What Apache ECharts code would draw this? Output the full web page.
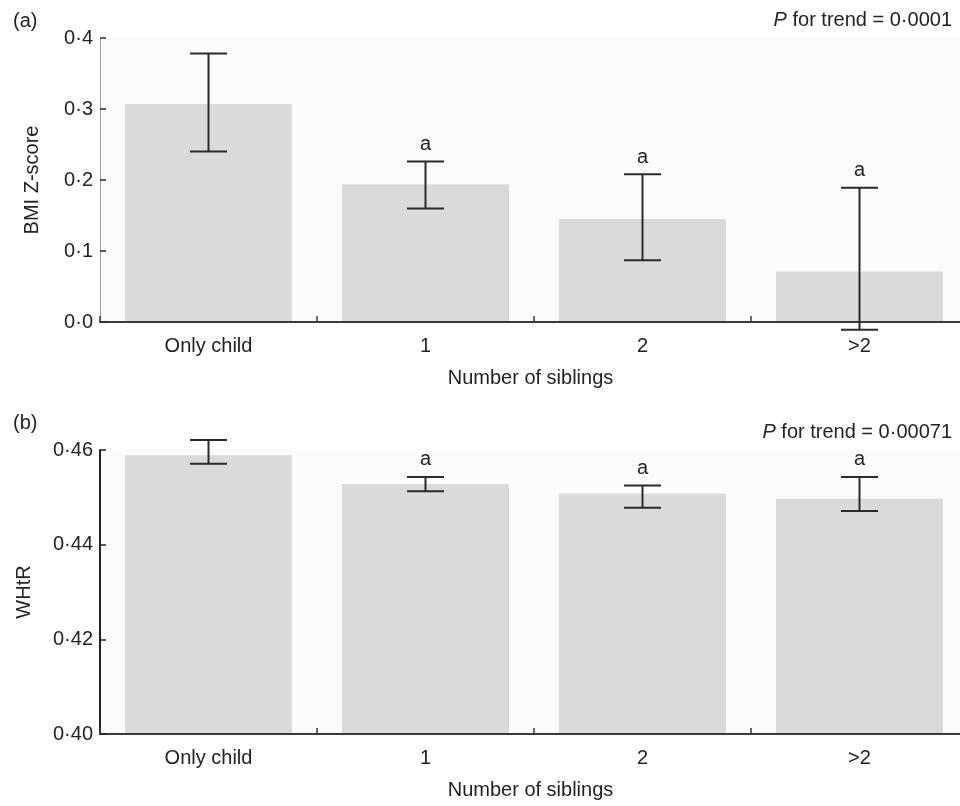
<!DOCTYPE html>
<html><head><meta charset="utf-8">
<script src="https://cdn.jsdelivr.net/npm/echarts/dist/echarts.min.js"></script>
<style>html,body{margin:0;padding:0;background:#fff}#c{width:960px;height:806px}</style>
</head><body><div id="c"></div>
<script>
const categories = ['Only child', '1', '2', '>2'];
const bmiMean  = [0.307, 0.194, 0.145, 0.071];
const bmiLower = [0.240, 0.160, 0.087, -0.011];
const bmiUpper = [0.378, 0.226, 0.208, 0.189];
const whtrMean  = [0.4589, 0.4528, 0.4508, 0.4497];
const whtrLower = [0.4571, 0.4513, 0.4478, 0.4471];
const whtrUpper = [0.4621, 0.4543, 0.4525, 0.4543];
const sigMarks = ['', 'a', 'a', 'a'];
const panelLabels = ['(a)', '(b)'];
const trendTexts = ['0\u00b70001', '0\u00b700071'];
const yNames = ['BMI Z-score', 'WHtR'];
const xName = 'Number of siblings';

const FF = "'Liberation Sans', Arial, Helvetica, sans-serif";
const dot = (v, d) => v.toFixed(d).replace('.', '\u00b7');

function errRender(params, api) {
  const i = api.value(0);
  const top = api.coord([i, api.value(2)]);
  const bot = api.coord([i, api.value(1)]);
  const half = 18.5;
  const st = { stroke: '#2a2a2a', lineWidth: 2 };
  const children = [
    { type: 'line', shape: { x1: top[0], y1: top[1], x2: bot[0], y2: bot[1] }, style: st },
    { type: 'line', shape: { x1: top[0] - half, y1: top[1], x2: top[0] + half, y2: top[1] }, style: st },
    { type: 'line', shape: { x1: bot[0] - half, y1: bot[1], x2: bot[0] + half, y2: bot[1] }, style: st }
  ];
  const mark = sigMarks[params.dataIndex];
  if (mark) {
    children.push({ type: 'text', x: top[0], y: top[1] - 17,
      style: { text: mark, fill: '#222', fontSize: 20, fontFamily: FF, align: 'center', verticalAlign: 'middle' } });
  }
  return { type: 'group', children };
}

function xAxisCfg(gi) {
  return {
    type: 'category', gridIndex: gi, data: categories, boundaryGap: true, z: 4,
    axisLine: { show: true, lineStyle: { color: '#3a3a3a', width: 2 } },
    axisTick: { show: true, inside: true, length: 6, alignWithLabel: false, lineStyle: { color: '#3a3a3a', width: 1.5 } },
    axisLabel: { margin: 14, fontSize: 20, fontFamily: FF, color: '#222' },
    splitLine: { show: false },
    name: xName, nameLocation: 'middle', nameGap: 46,
    nameTextStyle: { fontSize: 20, fontFamily: FF, color: '#222', padding: [0, 7, 0, 0] }
  };
}

const option = {
  backgroundColor: '#ffffff',
  animation: false,
  grid: [
    { left: 100, top: 38, width: 868, height: 284, show: true, backgroundColor: '#fbfbfb', borderWidth: 0, outerBoundsMode: 'none', containLabel: false },
    { left: 100, top: 450, width: 868, height: 284, show: true, backgroundColor: '#fbfbfb', borderWidth: 0, outerBoundsMode: 'none', containLabel: false }
  ],
  xAxis: [xAxisCfg(0), xAxisCfg(1)],
  yAxis: [
    { type: 'value', gridIndex: 0, min: 0, max: 0.4, interval: 0.1, z: 4,
      axisLine: { show: true, lineStyle: { color: '#9a9a9a', width: 1 } },
      axisTick: { show: true, inside: true, length: 6, lineStyle: { color: '#2a2a2a', width: 1.5 } },
      axisLabel: { margin: 7, fontSize: 20, fontFamily: FF, color: '#222', formatter: v => dot(v, 1) },
      splitLine: { show: false },
      name: yNames[0], nameLocation: 'middle', nameGap: 58, nameRotate: 90,
      nameTextStyle: { fontSize: 20, fontFamily: FF, color: '#222' } },
    { type: 'value', gridIndex: 1, min: 0.40, max: 0.46, interval: 0.02, z: 4,
      axisLine: { show: true, lineStyle: { color: '#222', width: 2 } },
      axisTick: { show: true, inside: true, length: 6, lineStyle: { color: '#222', width: 1.5 } },
      axisLabel: { margin: 7, fontSize: 20, fontFamily: FF, color: '#222', formatter: v => dot(v, 2) },
      splitLine: { show: false },
      name: yNames[1], nameLocation: 'middle', nameGap: 66, nameRotate: 90,
      nameTextStyle: { fontSize: 20, fontFamily: FF, color: '#222' } }
  ],
  series: [
    { type: 'bar', xAxisIndex: 0, yAxisIndex: 0, data: bmiMean, barWidth: 167, z: 2,
      itemStyle: { color: '#d9dadc' }, silent: true },
    { type: 'custom', xAxisIndex: 0, yAxisIndex: 0, renderItem: errRender, clip: false, z: 6,
      data: categories.map((c, i) => [i, bmiLower[i], bmiUpper[i]]) },
    { type: 'bar', xAxisIndex: 1, yAxisIndex: 1, data: whtrMean, barWidth: 167, z: 2,
      itemStyle: { color: '#d9dadc' }, silent: true },
    { type: 'custom', xAxisIndex: 1, yAxisIndex: 1, renderItem: errRender, clip: false, z: 6,
      data: categories.map((c, i) => [i, whtrLower[i], whtrUpper[i]]) }
  ],
  graphic: [
    { type: 'text', x: 13, y: 21, style: { text: panelLabels[0], fontSize: 20, fontFamily: FF, fill: '#222', verticalAlign: 'middle' } },
    { type: 'text', x: 13, y: 423, style: { text: panelLabels[1], fontSize: 20, fontFamily: FF, fill: '#222', verticalAlign: 'middle' } },
    { type: 'text', x: 952, y: 20, style: { text: '{i|P} for trend = ' + trendTexts[0], fontSize: 20, fontFamily: FF, fill: '#222', align: 'right', verticalAlign: 'middle',
        rich: { i: { fontStyle: 'italic', fontSize: 20, fontFamily: FF, fill: '#222' } } } },
    { type: 'text', x: 952, y: 432, style: { text: '{i|P} for trend = ' + trendTexts[1], fontSize: 20, fontFamily: FF, fill: '#222', align: 'right', verticalAlign: 'middle',
        rich: { i: { fontStyle: 'italic', fontSize: 20, fontFamily: FF, fill: '#222' } } } }
  ]
};
const chart = echarts.init(document.getElementById('c'), null, { renderer: 'canvas' });
chart.setOption(option);
</script></body></html>
